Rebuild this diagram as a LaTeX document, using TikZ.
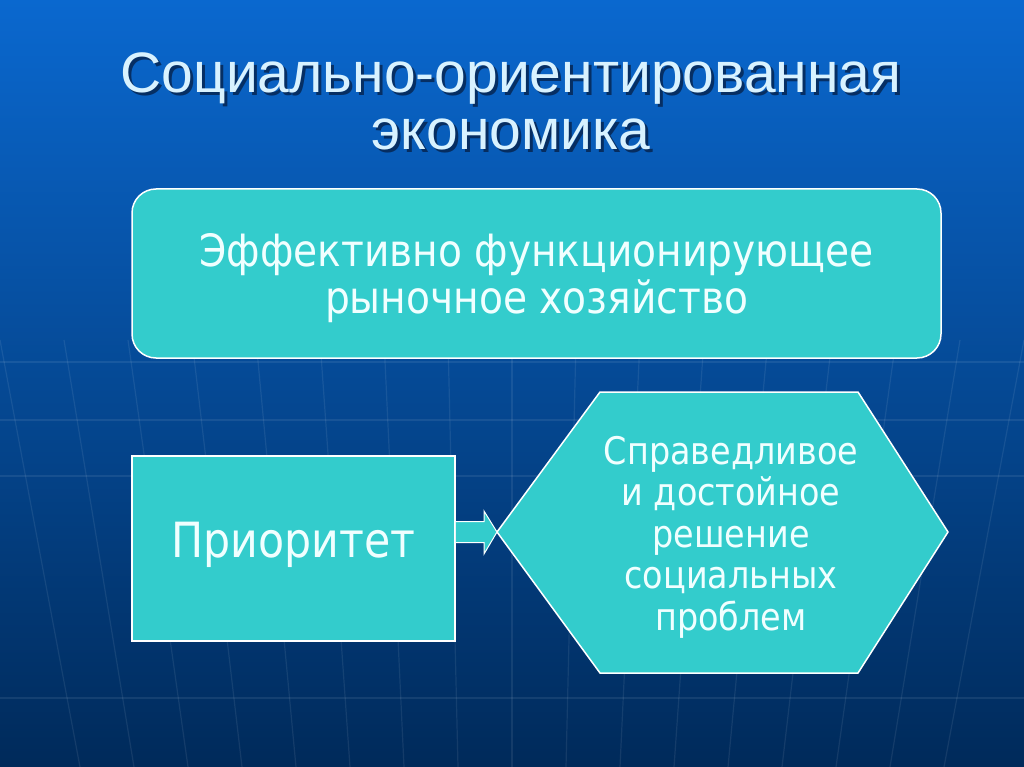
\documentclass[tikz,border=0pt]{standalone}
\usepackage{fontspec}
\setmainfont{Liberation Sans}
\newfontfamily\boxfont[FakeStretch=0.88]{DejaVu Sans}
\usetikzlibrary{calc}
\definecolor{bgtop}{HTML}{0A68CF}
\definecolor{bgmid}{HTML}{0A4D9C}
\definecolor{bgbot}{HTML}{002A5A}
\definecolor{boxteal}{HTML}{33CCCC}
\definecolor{boxwhite}{HTML}{F0FFFF}
\definecolor{titlecol}{HTML}{D8F2FF}
\definecolor{shadowcol}{HTML}{061A3C}
\tikzset{
  gridline/.style={white,opacity=0.08,line width=1.2pt},
  boxnode/.style={draw=white,line width=1.5pt,fill=boxteal},
  boxtext/.style={text=boxwhite,align=center,inner sep=0pt},
  titletext/.style={align=center,inner sep=0pt,font=\fontsize{57}{57}\selectfont}
}
\begin{document}
\begin{tikzpicture}[x=1pt,y=-1pt]
%background with the faint globe grid
    \fill[top color=bgtop,middle color=bgmid,bottom color=bgbot] (0,0) rectangle (1024,767);
    \useasboundingbox (0,0) rectangle (1024,767);
    \foreach \y in {362,420,476,698}
        \draw[gridline] (0,\y) -- (1024,\y);
    \foreach \i in {-8,...,8}
        \draw[gridline] (512+\i*64,340) -- (512+\i*54,767);

%title with its shadow
    \node[titletext,text=shadowcol,opacity=0.7] (titleshadow) at (514,104)
        {Социально-ориентированная\\экономика};
    \node[titletext,text=titlecol] (title) at (511,101)
        {Социально-ориентированная\\экономика};

%boxes
    \node[boxnode,rounded corners=24pt,minimum width=809pt,minimum height=169pt]
        (marketbox) at (536.5,273.5) {};
    \node[boxtext,font=\boxfont\fontsize{44.5}{47}\selectfont] (market)
        at ($(marketbox.center)+(0,5)$) {Эффективно функционирующее\\рыночное хозяйство};
    \node[boxnode,minimum width=323pt,minimum height=185pt] (prio) at (293.5,548.5) {};
    \node[boxtext,font=\boxfont\fontsize{48.5}{48}\selectfont] (priotext)
        at ($(prio.center)+(0,-4)$) {Приоритет};

%hexagon
    \coordinate (hexL) at (497,532);
    \draw[boxnode] (hexL) -- (600,392) -- (858,392) -- (948,532)
        -- (858,673) -- (600,673) -- cycle;
    \node[boxtext,font=\boxfont\fontsize{38}{41.5}\selectfont] (goal) at (731,537)
        {Справедливое\\и достойное\\решение\\социальных\\проблем};

%block arrow
    \draw[boxnode,line width=1pt] ($(prio.east |- hexL)+(0,-10.5)$) -- ($(hexL)+(-13,-10.5)$)
        -- ($(hexL)+(-13,-21)$) -- (hexL) -- ($(hexL)+(-13,22)$)
        -- ($(hexL)+(-13,10.5)$) -- ($(prio.east |- hexL)+(0,10.5)$);
\end{tikzpicture}
\end{document}
